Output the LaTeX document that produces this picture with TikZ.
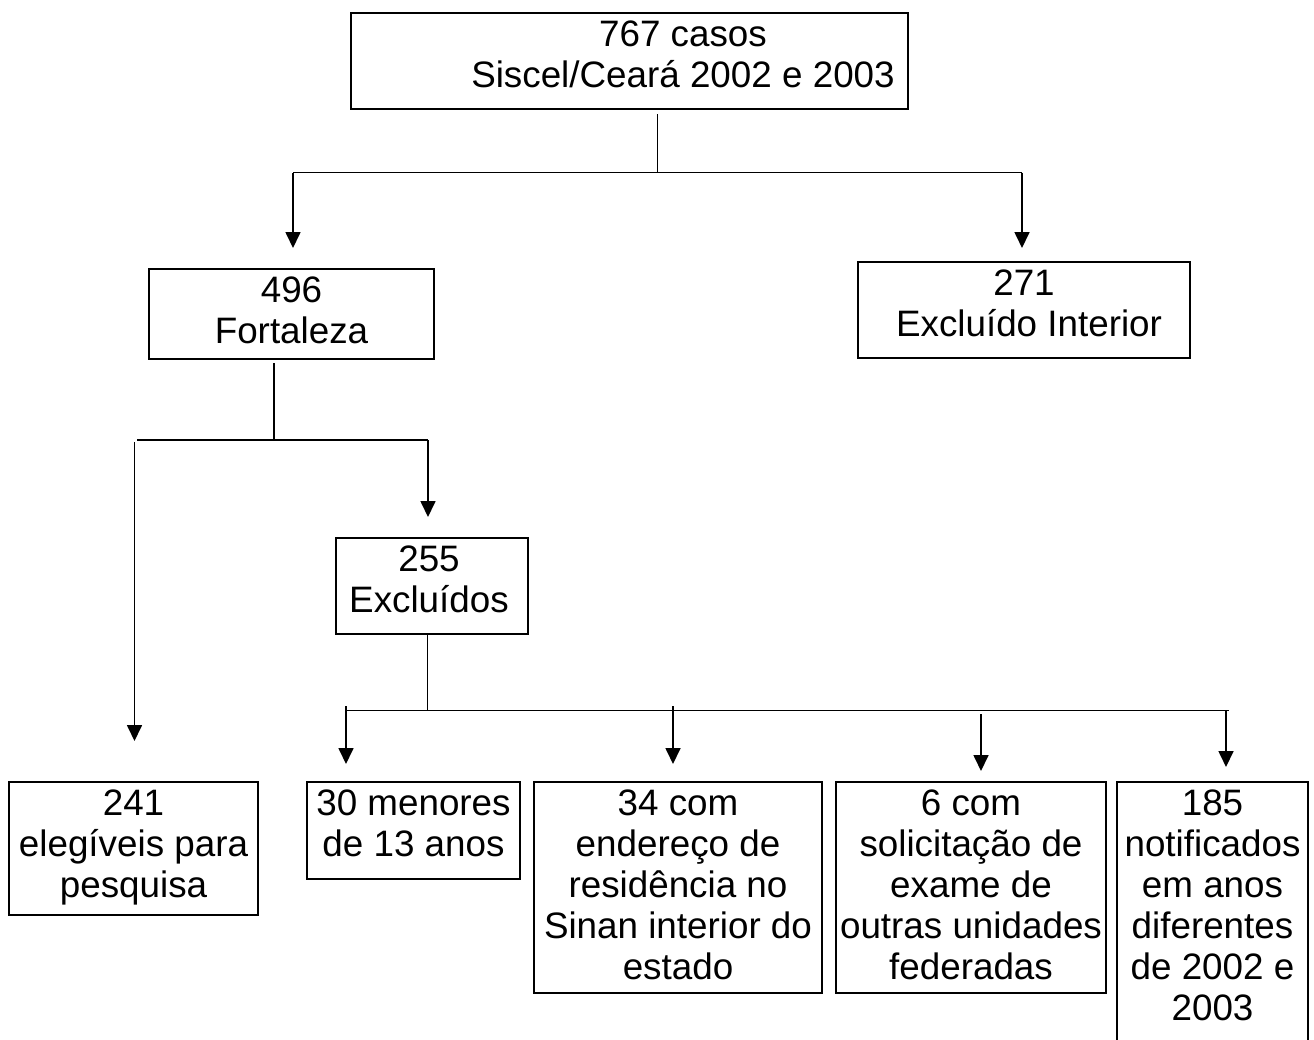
\documentclass[tikz,border=0pt]{standalone}
\usepackage{fontspec}
\setmainfont{Liberation Sans}
\usetikzlibrary{arrows.meta,calc}
\begin{document}
\begin{tikzpicture}[x=1pt,y=-1pt,
  box/.style={draw=black, line width=2pt, inner sep=0pt, anchor=north west},
  lbl/.style={inner sep=0pt, align=center, font=\fontsize{36.8}{41}\selectfont, anchor=north},
  conn/.style={line width=1.7pt},
  arr/.style={line width=1.7pt, -{Triangle[width=15pt,length=16pt]}}]
\useasboundingbox (0,0) rectangle (1314,1039);
\clip (0,0) rectangle (1314,1039);

% boxes
\node[box, minimum width=557pt, minimum height=96pt] (top) at (350,12) {};
\node[lbl] (topt) at ($(top.north)+(53.5,5.8)$) {\strut 767 casos\\Siscel/Ceará 2002 e 2003\strut};

\node[box, minimum width=285pt, minimum height=90pt] (fort) at (148,268) {};
\node[lbl] (fortt) at ($(fort.north)+(0,5.8)$) {\strut 496\\Fortaleza\strut};

\node[box, minimum width=332pt, minimum height=96pt] (inter) at (857,261) {};
\node[lbl] (intert) at ($(inter.north)+(0,5.8)$) {\strut 271\\\hspace*{10pt}Excluído Interior\strut};

\node[box, minimum width=192pt, minimum height=96pt] (exc) at (335,537) {};
\node[lbl] (exct) at ($(exc.north)+(-3,5.8)$) {\strut 255\\Excluídos\strut};

\node[box, minimum width=249pt, minimum height=133pt] (b241) at (8,781) {};
\node[lbl] (b241t) at ($(b241.north)+(0,5.8)$) {\strut 241\\elegíveis para\\pesquisa\strut};

\node[box, minimum width=213pt, minimum height=97pt] (b30) at (306,781) {};
\node[lbl] (b30t) at ($(b30.north)+(0,5.8)$) {\strut 30 menores\\de 13 anos\strut};

\node[box, minimum width=288pt, minimum height=211pt] (b34) at (533,781) {};
\node[lbl] (b34t) at ($(b34.north)+(0,5.8)$) {\strut 34 com\\endereço de\\residência no\\Sinan interior do\\estado\strut};

\node[box, minimum width=270pt, minimum height=211pt] (b6) at (835,781) {};
\node[lbl] (b6t) at ($(b6.north)+(0,5.8)$) {\strut 6 com\\solicitação de\\exame de\\outras unidades\\federadas\strut};

\node[box, minimum width=191pt, minimum height=300pt] (b185) at (1116,781) {};
\node[lbl] (b185t) at ($(b185.north)+(0,5.8)$) {\strut 185\\notificados\\em anos\\diferentes\\de 2002 e\\2003\strut};

% connector junctions
\coordinate (a0) at (657.5,114);
\coordinate (a1) at (657.5,172.5);
\coordinate (al) at (293,172.5);
\coordinate (ar) at (1022,172.5);
\coordinate (alt) at (293,248);
\coordinate (art) at (1022,248);

\coordinate (f0) at (273.7,363);
\coordinate (f1) at (273.7,440);
\coordinate (fl) at (137,440);
\coordinate (fr) at (428,440);
\coordinate (fls) at (134.5,442);
\coordinate (flt) at (134.5,741);
\coordinate (frt) at (428,517);

\coordinate (e0) at (427.5,634);
\coordinate (e1) at (427.5,710.5);
\coordinate (el) at (346,710.5);
\coordinate (er) at (1229,710.5);
\coordinate (s1) at (346,706);   \coordinate (s1t) at (346,764);
\coordinate (s2) at (673,706);   \coordinate (s2t) at (673,764);
\coordinate (s3) at (981,714);   \coordinate (s3t) at (981,771);
\coordinate (s4) at (1226,710.5);  \coordinate (s4t) at (1226,767);

% connectors
\draw[conn] (a0) -- (a1);
\draw[conn] (al) -- (ar);
\draw[arr] (al) -- (alt);
\draw[arr] (ar) -- (art);

\draw[conn] (f0) -- (f1);
\draw[conn] (fl) -- (fr);
\draw[arr] (fls) -- (flt);
\draw[arr] (fr) -- (frt);

\draw[conn] (e0) -- (e1);
\draw[conn] (el) -- (er);
\draw[arr] (s1) -- (s1t);
\draw[arr] (s2) -- (s2t);
\draw[arr] (s3) -- (s3t);
\draw[arr] (s4) -- (s4t);
\end{tikzpicture}
\end{document}
